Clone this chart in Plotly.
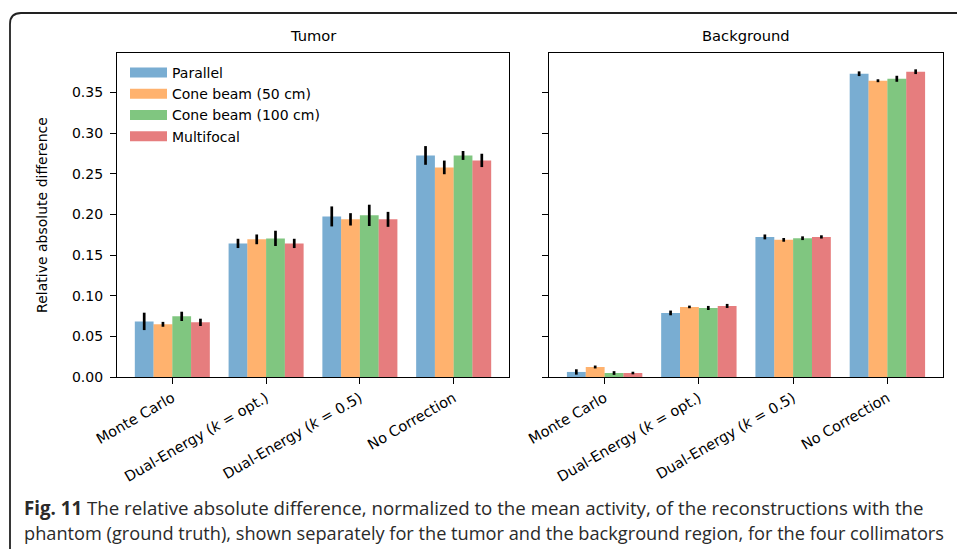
import plotly.graph_objects as go

categories = ["Monte Carlo", "Dual-Energy (k = opt.)", "Dual-Energy (k = 0.5)", "No Correction"]
tick_labels = ["Monte Carlo", "Dual-Energy (<i>k</i> = opt.)", "Dual-Energy (<i>k</i> = 0.5)", "No Correction"]
series_names = ["Parallel", "Cone beam (50 cm)", "Cone beam (100 cm)", "Multifocal"]
series_colors = ["rgba(31,119,180,0.6)", "rgba(255,127,14,0.6)", "rgba(44,160,44,0.6)", "rgba(214,39,40,0.6)"]

tumor_parallel = [0.0684, 0.1643, 0.1975, 0.2725]
tumor_cone50 = [0.0648, 0.1693, 0.1939, 0.2578]
tumor_cone100 = [0.0746, 0.1705, 0.1988, 0.2725]
tumor_multifocal = [0.0672, 0.1643, 0.1939, 0.2664]

tumor_parallel_err = [0.0107, 0.0057, 0.0123, 0.0115]
tumor_cone50_err = [0.0030, 0.0060, 0.0076, 0.0084]
tumor_cone100_err = [0.0057, 0.0094, 0.0131, 0.0055]
tumor_multifocal_err = [0.0045, 0.0057, 0.0092, 0.0082]

bg_parallel = [0.0062, 0.0788, 0.1723, 0.3730]
bg_cone50 = [0.0123, 0.0862, 0.1687, 0.3644]
bg_cone100 = [0.0049, 0.0849, 0.1707, 0.3668]
bg_multifocal = [0.0049, 0.0874, 0.1723, 0.3755]

bg_parallel_err = [0.0033, 0.0029, 0.0030, 0.0029]
bg_cone50_err = [0.0018, 0.0016, 0.0023, 0.0018]
bg_cone100_err = [0.0023, 0.0025, 0.0023, 0.0037]
bg_multifocal_err = [0.0016, 0.0025, 0.0020, 0.0029]

y_ticks = [0.00, 0.05, 0.10, 0.15, 0.20, 0.25, 0.30, 0.35]

tumor = [tumor_parallel, tumor_cone50, tumor_cone100, tumor_multifocal]
tumor_err = [tumor_parallel_err, tumor_cone50_err, tumor_cone100_err, tumor_multifocal_err]
bg = [bg_parallel, bg_cone50, bg_cone100, bg_multifocal]
bg_err = [bg_parallel_err, bg_cone50_err, bg_cone100_err, bg_multifocal_err]

W, H = 957, 549
def px(x):
    return x / W
def py(y):
    return 1 - y / H

FONT = "DejaVu Sans"
FS = 14.0
FS_X = 14.5
FS_T = 14.7

fig = go.Figure()
for i in range(4):
    fig.add_trace(go.Bar(
        x=categories, y=tumor[i], name=series_names[i], showlegend=False,
        marker=dict(color=series_colors[i], line=dict(width=0)),
        error_y=dict(type="data", array=tumor_err[i], color="black", thickness=2.7, width=0),
        xaxis="x", yaxis="y", offsetgroup=str(i)))
for i in range(4):
    fig.add_trace(go.Bar(
        x=categories, y=bg[i], name=series_names[i], showlegend=False,
        marker=dict(color=series_colors[i], line=dict(width=0)),
        error_y=dict(type="data", array=bg_err[i], color="black", thickness=2.7, width=0),
        xaxis="x2", yaxis="y2", offsetgroup=str(i)))
# legend entries
for i in range(4):
    fig.add_trace(go.Scatter(
        x=[None], y=[None], mode="lines", name=series_names[i],
        line=dict(color=series_colors[i], width=11), xaxis="x", yaxis="y"))

ax_common = dict(showline=True, linecolor="black", linewidth=1.3, mirror=True,
                 ticks="outside", ticklen=6, tickwidth=1.3, tickcolor="black",
                 showgrid=False, zeroline=False, automargin=False)

y_top = 0.3985
fig.update_layout(
    template="none",
    width=W, height=H, margin=dict(l=0, r=0, t=0, b=0, pad=0, autoexpand=False),
    paper_bgcolor="white", plot_bgcolor="white",
    font=dict(family=FONT, size=FS, color="black"),
    barmode="group", bargap=0.2, bargroupgap=0,
    xaxis=dict(domain=[px(117), px(509)], anchor="y", type="category",
               range=[-0.59, 3.59], tickvals=categories, ticktext=tick_labels,
               tickangle=-30, tickfont=dict(family=FONT, size=FS_X, color="black"),
               **ax_common),
    xaxis2=dict(domain=[px(549), px(943)], anchor="y2", type="category",
                range=[-0.59, 3.59], tickvals=categories, ticktext=tick_labels,
                tickangle=-30, tickfont=dict(family=FONT, size=FS_X, color="black"),
                **ax_common),
    yaxis=dict(domain=[py(377), py(53)], anchor="x", range=[0, y_top],
               tickvals=y_ticks, tickformat=".2f", ticklabelstandoff=4,
               tickfont=dict(family=FONT, size=FS, color="black"),
               title=dict(text="Relative absolute difference", standoff=20,
                          font=dict(family=FONT, size=FS, color="black")),
               **ax_common),
    yaxis2=dict(domain=[py(377), py(53)], anchor="x2", range=[0, y_top],
                tickvals=y_ticks, showticklabels=False, **ax_common),
    legend=dict(x=px(125), y=py(57), xanchor="left", yanchor="top",
                bgcolor="rgba(0,0,0,0)", borderwidth=0, itemwidth=37,
                font=dict(family=FONT, size=FS, color="black")),
    showlegend=True,
)

annotations = [
    dict(text="Tumor", x=px(313), y=py(35), xref="paper", yref="paper",
         showarrow=False, xanchor="center", yanchor="middle",
         font=dict(family=FONT, size=FS_T, color="black")),
    dict(text="Background", x=px(746), y=py(35), xref="paper", yref="paper",
         showarrow=False, xanchor="center", yanchor="middle",
         font=dict(family=FONT, size=FS_T, color="black")),
    dict(text="<b>Fig. 11</b> The relative absolute difference, normalized to the mean activity, of the reconstructions with the",
         x=px(22), y=py(507), xref="paper", yref="paper", showarrow=False,
         xanchor="left", yanchor="middle",
         font=dict(family="Open Sans", size=18.7, color="#2a2a2a")),
    dict(text="phantom (ground truth), shown separately for the tumor and the background region, for the four collimators",
         x=px(22), y=py(533), xref="paper", yref="paper", showarrow=False,
         xanchor="left", yanchor="middle",
         font=dict(family="Open Sans", size=18.2, color="#2a2a2a")),
]
fig.update_layout(annotations=annotations)

# outer rounded frame (figure box)
r = 11
path = (f"M {px(10)},{py(600)} L {px(10)},{py(13 + r)} "
        f"Q {px(10)},{py(13)} {px(10 + r)},{py(13)} L {px(1000)},{py(13)}")
fig.add_shape(type="path", path=path, xref="paper", yref="paper",
              line=dict(color="#222222", width=1.8))

fig.write_html("out.html", config={"displayModeBar": False},
               post_script="document.body.style.margin='0';document.body.style.overflow='hidden';")
